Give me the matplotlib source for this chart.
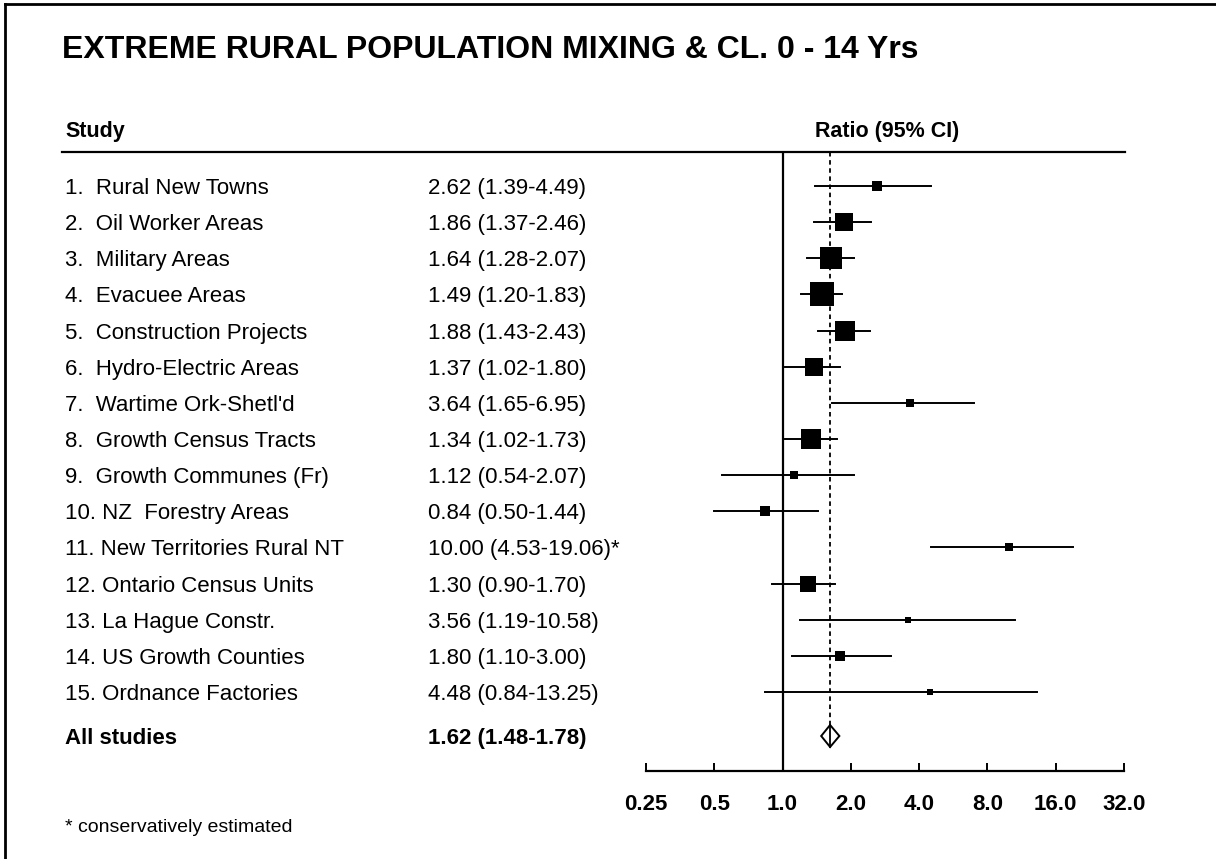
import matplotlib.pyplot as plt
from matplotlib.lines import Line2D
from matplotlib.transforms import blended_transform_factory
import numpy as np

plt.rcParams["font.family"] = ["Liberation Sans", "DejaVu Sans"]

# data
studies = [
    "1.  Rural New Towns",
    "2.  Oil Worker Areas",
    "3.  Military Areas",
    "4.  Evacuee Areas",
    "5.  Construction Projects",
    "6.  Hydro-Electric Areas",
    "7.  Wartime Ork-Shetl'd",
    "8.  Growth Census Tracts",
    "9.  Growth Communes (Fr)",
    "10. NZ  Forestry Areas",
    "11. New Territories Rural NT",
    "12. Ontario Census Units",
    "13. La Hague Constr.",
    "14. US Growth Counties",
    "15. Ordnance Factories",
]
ratio = [2.62, 1.86, 1.64, 1.49, 1.88, 1.37, 3.64, 1.34, 1.12, 0.84, 10.00, 1.30, 3.56, 1.80, 4.48]
lower = [1.39, 1.37, 1.28, 1.20, 1.43, 1.02, 1.65, 1.02, 0.54, 0.50, 4.53, 0.90, 1.19, 1.10, 0.84]
upper = [4.49, 2.46, 2.07, 1.83, 2.43, 1.80, 6.95, 1.73, 2.07, 1.44, 19.06, 1.70, 10.58, 3.00, 13.25]
ci_text = [
    "2.62 (1.39-4.49)", "1.86 (1.37-2.46)", "1.64 (1.28-2.07)", "1.49 (1.20-1.83)",
    "1.88 (1.43-2.43)", "1.37 (1.02-1.80)", "3.64 (1.65-6.95)", "1.34 (1.02-1.73)",
    "1.12 (0.54-2.07)", "0.84 (0.50-1.44)", "10.00 (4.53-19.06)*", "1.30 (0.90-1.70)",
    "3.56 (1.19-10.58)", "1.80 (1.10-3.00)", "4.48 (0.84-13.25)",
]
# box side in pixels (study weight)
box_px = [9.3, 17.7, 21.7, 24.7, 19.7, 18.3, 7.7, 19.3, 7.3, 9.7, 7.3, 16, 6, 10.3, 5.7]
pooled = 1.62
pooled_lo = 1.48
pooled_hi = 1.78
pooled_text = "1.62 (1.48-1.78)"
ticks = [0.25, 0.5, 1, 2, 4, 8, 16, 32]
tick_labels = ["0.25", "0.5", "1.0", "2.0", "4.0", "8.0", "16.0", "32.0"]

W, H = 1216, 859
fig = plt.figure(figsize=(W / 100, H / 100), dpi=100)

# forest axes placed in pixels
x0, x1, ytop, ybot = 646, 1124, 152, 771
ax = fig.add_axes([x0 / W, 1 - ybot / H, (x1 - x0) / W, (ybot - ytop) / H])
ax.set_xscale("log", base=2)
ax.set_xlim(0.25, 32)
row_px = 36.14
ax.set_ylim(1 + (ybot - 186) / row_px, 1 - (186 - ytop) / row_px)

rows = np.arange(1, len(studies) + 1)
pooled_row = 1 + (736 - 186) / row_px
ptpx = 72 / 100  # points per pixel

ax.axvline(1, color="black", lw=1.6, zorder=1)
ax.plot([pooled, pooled], [ax.get_ylim()[1], pooled_row], color="black", lw=1.3,
        ls=(0, (2.5, 2)), zorder=1)

for i, r in enumerate(rows):
    ax.plot([lower[i], upper[i]], [r, r], color="black", lw=1.4, zorder=2)
    ax.plot(ratio[i], r, marker="s", color="black", ms=box_px[i] * ptpx, mew=0, zorder=3)

# pooled diamond
dh = 11 / row_px
ax.fill([pooled_lo, pooled, pooled_hi, pooled],
        [pooled_row, pooled_row - dh, pooled_row, pooled_row + dh],
        facecolor="white", edgecolor="black", lw=1.4, zorder=3)
ax.plot([pooled, pooled], [pooled_row - dh, pooled_row + dh], color="black", lw=1.3, zorder=4)

for s in ["top", "right", "left"]:
    ax.spines[s].set_visible(False)
ax.spines["bottom"].set_linewidth(1.6)
ax.set_xticks(ticks)
ax.set_xticklabels(tick_labels, fontsize=16, fontweight="bold")
ax.minorticks_off()
ax.tick_params(axis="x", direction="in", length=6, width=1.4, pad=16.5)
ax.set_yticks([])
ax.patch.set_alpha(0)

# text columns (x in figure fraction, y in data rows)
btr = blended_transform_factory(fig.transFigure, ax.transData)
for i, r in enumerate(rows):
    ax.text(65 / W, r, studies[i], transform=btr, fontsize=16, va="center_baseline", ha="left")
    ax.text(428 / W, r, ci_text[i], transform=btr, fontsize=16, va="center_baseline", ha="left")
ax.text(65 / W, pooled_row, "All studies", transform=btr, fontsize=16, fontweight="bold",
        va="center_baseline")
ax.text(428 / W, pooled_row, pooled_text, transform=btr, fontsize=16, fontweight="bold",
        va="center_baseline")

# header and rules
fig.text(65 / W, 1 - 129 / H, "Study", fontsize=15.5, fontweight="bold", va="center_baseline")
fig.text(887 / W, 1 - 129 / H, "Ratio (95% CI)", fontsize=15.5, fontweight="bold",
         va="center_baseline", ha="center")
fig.add_artist(Line2D([62 / W, 1125 / W], [1 - 152 / H, 1 - 152 / H], color="black", lw=1.6))
fig.text(62 / W, 1 - 47 / H, "EXTREME RURAL POPULATION MIXING & CL. 0 - 14 Yrs", fontsize=23,
         fontweight="bold", va="center_baseline")
fig.text(65 / W, 1 - 826 / H, "* conservatively estimated", fontsize=14, va="center_baseline")

# frame lines at top and left
fig.add_artist(Line2D([5 / W, 1], [1 - 4 / H, 1 - 4 / H], color="black", lw=2))
fig.add_artist(Line2D([5 / W, 5 / W], [0, 1 - 4 / H], color="black", lw=2))

fig.savefig("out.png", dpi=100)
